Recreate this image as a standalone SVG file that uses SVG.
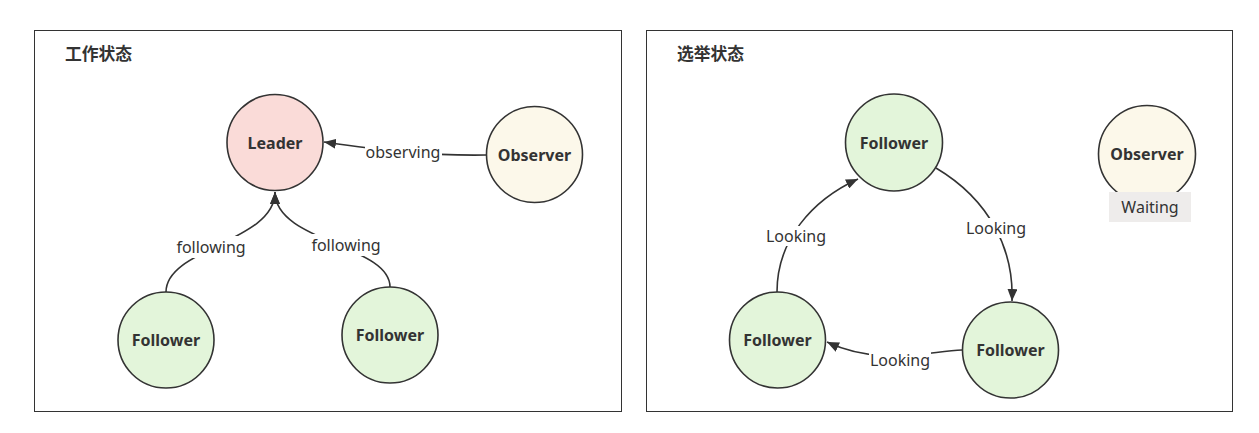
<svg xmlns="http://www.w3.org/2000/svg" width="1259" height="433" viewBox="0 0 1259 433">
<defs>
<marker id="arr" viewBox="0 0 12 10" refX="12" refY="5" markerWidth="12" markerHeight="10" markerUnits="userSpaceOnUse" orient="auto">
<path d="M0,0 L12,5 L0,10 Z" fill="#333"/>
</marker>
<style>
.frame{fill:#fff;stroke:#333;stroke-width:1}
.title{font-family:"Noto Sans","Noto Sans CJK SC",sans-serif;font-weight:bold;font-size:16.8px;fill:#333}
.node{stroke:#333;stroke-width:1.6}
.leader{fill:#fadbd8}
.follower{fill:#e3f5da}
.observer{fill:#fcf8ea}
.nl{font-family:"Noto Sans",sans-serif;font-weight:bold;font-size:16px;fill:#333;text-anchor:middle;dominant-baseline:central}
.edge{fill:none;stroke:#333;stroke-width:1.6;marker-end:url(#arr)}
.el{font-family:"Noto Sans",sans-serif;font-size:16px;fill:#333;text-anchor:middle;dominant-baseline:central}
.lbg{fill:#fff}
</style>
</defs>
<rect width="1259" height="433" fill="#fff"/>
<g id="frame-work">
<rect class="frame" x="34.5" y="30.5" width="587" height="381"/>
<text class="title" x="65" y="60">工作状态</text>
</g>
<g id="frame-election">
<rect class="frame" x="646.5" y="30.5" width="586" height="381"/>
<text class="title" x="677" y="60">选举状态</text>
</g>
<g id="connectors">
<path class="edge" d="M486,155 C430,156 380,150 324,142"/>
<path class="edge" d="M166,292 C166,248 275,242 275,192"/>
<path class="edge" d="M390,287 C390,245 275,242 275,192"/>
<path class="edge" d="M777,292 C777,240 812,200 858,179"/>
<path class="edge" d="M936,168 C990,200 1014,250 1012,301"/>
<path class="edge" d="M962,350 C925,352 878,366 827,342"/>
<rect class="lbg" x="365" y="142" width="77" height="20"/>
<text class="el" x="403" y="152">observing</text>
<rect class="lbg" x="176" y="236" width="70" height="22"/>
<text class="el" x="211" y="247">following</text>
<rect class="lbg" x="311" y="234" width="70" height="22"/>
<text class="el" x="346" y="245">following</text>
<rect class="lbg" x="764" y="226" width="64" height="20"/>
<text class="el" x="796" y="236">Looking</text>
<rect class="lbg" x="964" y="218" width="64" height="20"/>
<text class="el" x="996" y="228">Looking</text>
<rect class="lbg" x="869" y="350" width="62" height="20"/>
<text class="el" x="900" y="360">Looking</text>
</g>
<g id="leader">
<circle class="node leader" cx="275" cy="142.5" r="48"/>
<text class="nl" x="275" y="142.5">Leader</text>
</g>
<g id="observer-work">
<circle class="node observer" cx="534.5" cy="154.5" r="48"/>
<text class="nl" x="534.5" y="154.5">Observer</text>
</g>
<g id="follower-work-1">
<circle class="node follower" cx="166" cy="340" r="48"/>
<text class="nl" x="166" y="340">Follower</text>
</g>
<g id="follower-work-2">
<circle class="node follower" cx="390" cy="335" r="48"/>
<text class="nl" x="390" y="335">Follower</text>
</g>
<g id="follower-top">
<circle class="node follower" cx="894" cy="142.5" r="48.5"/>
<text class="nl" x="894" y="142.5">Follower</text>
</g>
<g id="follower-left">
<circle class="node follower" cx="777.5" cy="340" r="48"/>
<text class="nl" x="777.5" y="340">Follower</text>
</g>
<g id="follower-right">
<circle class="node follower" cx="1010.5" cy="350" r="48"/>
<text class="nl" x="1010.5" y="350">Follower</text>
</g>
<g id="observer-election">
<circle class="node observer" cx="1147" cy="154" r="48.5"/>
<text class="nl" x="1147" y="154">Observer</text>
<rect x="1109" y="192" width="82" height="30" fill="#eeeceb"/>
<text class="el" x="1150" y="207">Waiting</text>
</g>
</svg>
